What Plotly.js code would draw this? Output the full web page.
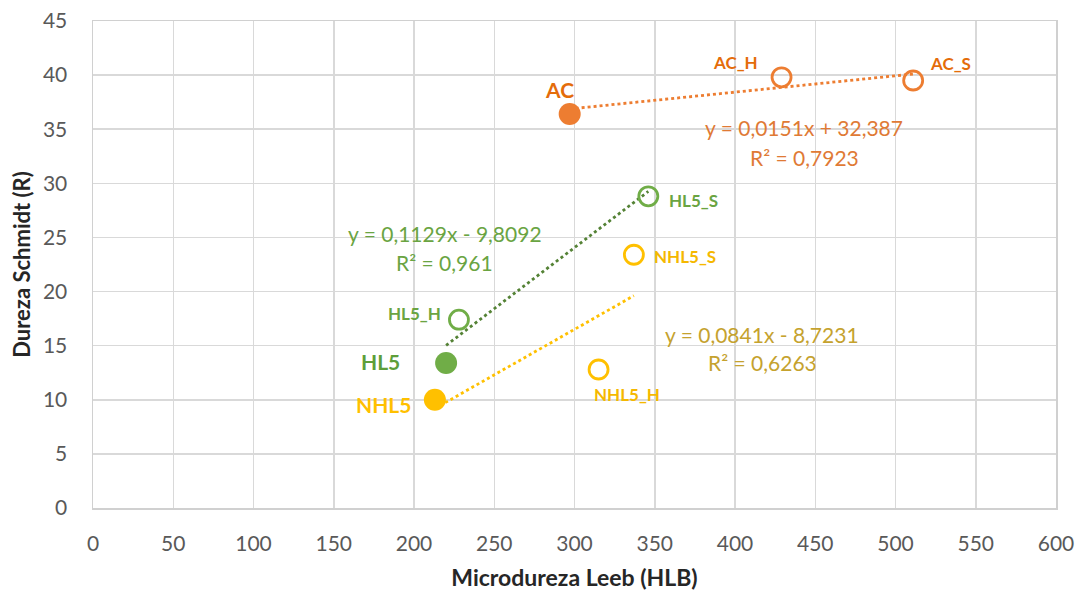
<!DOCTYPE html>
<html>
<head>
<meta charset="utf-8">
<script src="https://cdn.plot.ly/plotly-3.0.1.min.js"></script>
<style>
  html, body { margin: 0; padding: 0; background: #ffffff; }
  #chart { width: 1081px; height: 591px; }
</style>
</head>
<body>
<div id="chart"></div>
<script>
// Mortar groups: reference sample (filled) and its two aged variants (open)
const groups = ['AC', 'HL5', 'NHL5'];
const groupColors = ['#ED7D31', '#70AD47', '#FFC000'];
const trendColors = ['#ED7D31', '#548235', '#FFC000'];
const equationColors = ['#E07A35', '#6AA442', '#C5A22E'];

// Leeb microhardness (HLB) and Schmidt hardness (R) per sample
const baseLabels = ['AC', 'HL5', 'NHL5'];
const baseLeeb = [297, 220, 213];
const baseSchmidt = [36.4, 13.4, 10.0];

const hLabels = ['AC_H', 'HL5_H', 'NHL5_H'];
const hLeeb = [429, 228, 315];
const hSchmidt = [39.8, 17.4, 12.8];

const sLabels = ['AC_S', 'HL5_S', 'NHL5_S'];
const sLeeb = [511, 346, 337];
const sSchmidt = [39.5, 28.8, 23.4];

// Linear trendlines as reported (y = a·x + b, R²)
const trendSlope = [0.0151, 0.1129, 0.0841];
const trendIntercept = [32.387, -9.8092, -8.7231];
const trendR2 = [0.7923, 0.961, 0.6263];

const FONT = 'Lato, "Open Sans", sans-serif';
const dec = n => String(n).replace('.', ',');

const traces = [];
const annotations = [];

groups.forEach((g, i) => {
  const xs = [baseLeeb[i], hLeeb[i], sLeeb[i]];
  const x0 = Math.min(...xs), x1 = Math.max(...xs);
  const a = trendSlope[i], b = trendIntercept[i];

  // dotted linear trendline spanning the group's HLB range
  traces.push({
    type: 'scatter', mode: 'lines',
    x: [x0, x1], y: [a * x0 + b, a * x1 + b],
    line: { color: trendColors[i], width: 2.8, dash: 'dot' },
    hoverinfo: 'skip', showlegend: false
  });
  // reference sample
  traces.push({
    type: 'scatter', mode: 'markers',
    x: [baseLeeb[i]], y: [baseSchmidt[i]],
    marker: { symbol: 'circle', size: 22, color: groupColors[i] },
    name: baseLabels[i], showlegend: false
  });
  // aged samples
  traces.push({
    type: 'scatter', mode: 'markers',
    x: [hLeeb[i], sLeeb[i]], y: [hSchmidt[i], sSchmidt[i]],
    marker: { symbol: 'circle-open', size: 19, color: groupColors[i], line: { width: 2.8, color: groupColors[i] } },
    name: g + ' aged', showlegend: false
  });
});

// point labels: [text, x, y, xanchor, xshift, yshift, size, color]
const big = 21, small = 17;
const pointLabels = [
  [baseLabels[0], baseLeeb[0], baseSchmidt[0], 'center', -10, 25, big, '#E46C0A'],
  [hLabels[0], hLeeb[0], hSchmidt[0], 'center', -46, 15, small, '#E46C0A'],
  [sLabels[0], sLeeb[0], sSchmidt[0], 'left', 15, 17, small, '#E46C0A'],
  [baseLabels[1], baseLeeb[1], baseSchmidt[1], 'right', -44, 1, big, '#5E9E3A'],
  [hLabels[1], hLeeb[1], hSchmidt[1], 'right', -16, 6, small, '#6AA442'],
  [sLabels[1], sLeeb[1], sSchmidt[1], 'left', 19, -4, small, '#6AA442'],
  [baseLabels[2], baseLeeb[2], baseSchmidt[2], 'right', -22, -5, big, '#FFC000'],
  [hLabels[2], hLeeb[2], hSchmidt[2], 'center', 28, -25, small, '#F5B800'],
  [sLabels[2], sLeeb[2], sSchmidt[2], 'left', 18, -2, small, '#F5B800']
];
pointLabels.forEach(p => {
  annotations.push({
    text: '<b>' + p[0] + '</b>', x: p[1], y: p[2], xref: 'x', yref: 'y',
    xanchor: p[3], yanchor: 'middle', xshift: p[4], yshift: p[5],
    showarrow: false, font: { family: FONT, size: p[6], color: p[7] }
  });
});

// trendline equation boxes: centre positions on the data axes
const eqX = [443, 219, 417];
const eqY = [35.2, 25.4, 16.0];
const r2Y = [32.4, 22.7, 13.4];
groups.forEach((g, i) => {
  const b = trendIntercept[i];
  const eq = 'y = ' + dec(trendSlope[i]) + 'x ' + (b < 0 ? '- ' : '+ ') + dec(Math.abs(b));
  annotations.push({
    text: eq, x: eqX[i], y: eqY[i], xref: 'x', yref: 'y',
    xanchor: 'center', yanchor: 'middle', showarrow: false,
    font: { family: FONT, size: 21, color: equationColors[i] }
  });
  annotations.push({
    text: 'R² = ' + dec(trendR2[i]), x: eqX[i], y: r2Y[i], xref: 'x', yref: 'y',
    xanchor: 'center', yanchor: 'middle', showarrow: false,
    font: { family: FONT, size: 21, color: equationColors[i] }
  });
});

const layout = {
  width: 1081, height: 591,
  margin: { l: 93, r: 25, t: 21, b: 83 },
  paper_bgcolor: '#ffffff', plot_bgcolor: '#ffffff',
  showlegend: false,
  font: { family: FONT },
  xaxis: {
    range: [0, 600], tick0: 0, dtick: 50,
    showgrid: true, gridcolor: '#D9D9D9', gridwidth: 1.5,
    showline: true, linecolor: '#D0D0D0', linewidth: 1.5, mirror: true,
    zeroline: false,
    ticks: 'outside', ticklen: 16, tickcolor: 'rgba(0,0,0,0)',
    tickfont: { family: FONT, size: 21, color: '#595959' },
    title: { text: '<b>Microdureza Leeb (HLB)</b>', font: { family: FONT, size: 23, color: '#262626' }, standoff: 16 }
  },
  yaxis: {
    range: [0, 45], tick0: 0, dtick: 5,
    showgrid: true, gridcolor: '#D9D9D9', gridwidth: 1.5,
    showline: true, linecolor: '#D0D0D0', linewidth: 1.5, mirror: true,
    zeroline: false,
    ticks: 'outside', ticklen: 20, tickcolor: 'rgba(0,0,0,0)',
    tickfont: { family: FONT, size: 21, color: '#595959' },
    title: { text: '<b>Dureza Schmidt (R)</b>', font: { family: FONT, size: 22, color: '#262626' }, standoff: 6 }
  },
  annotations: annotations
};

Plotly.newPlot('chart', traces, layout, { displayModeBar: false, staticPlot: true });
</script>
</body>
</html>
